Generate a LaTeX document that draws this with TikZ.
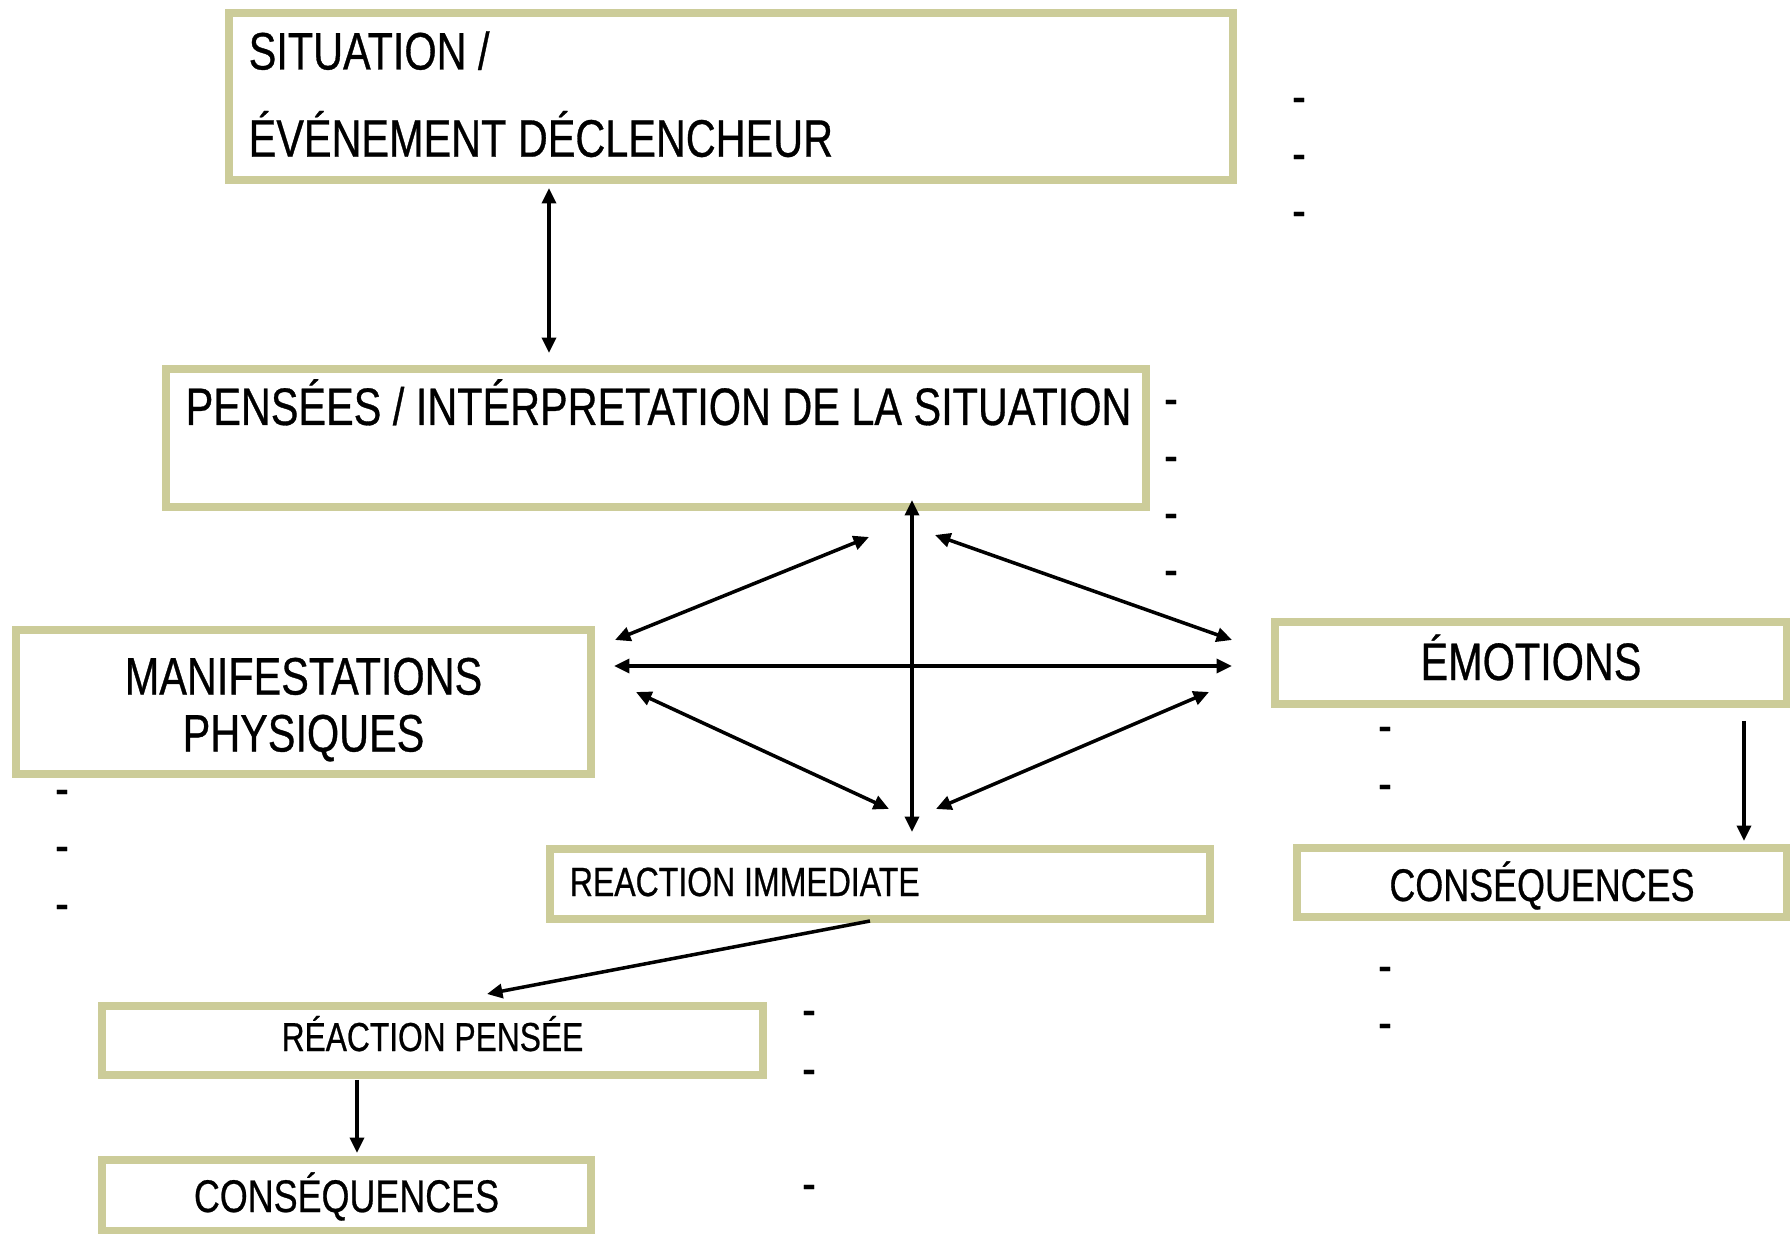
\documentclass[tikz,border=0pt]{standalone}
\usepackage{fontspec}
\setmainfont{Liberation Sans}[FakeStretch=0.785, FakeBold=0.6]
\usetikzlibrary{arrows.meta, positioning}
\definecolor{FrameOlive}{RGB}{204,204,153}

\tikzset{
  frame/.style={rectangle, draw=FrameOlive, line width=2.3pt, fill=white, inner sep=0pt},
  link/.style={line width=1pt, {Triangle[length=4.4pt,width=4pt]}-{Triangle[length=4.4pt,width=4pt]}},
  onelink/.style={line width=1pt, -{Triangle[length=4.4pt,width=4pt]}},
  hyphenmark/.style={inner sep=0pt, font=\fontsize{15}{18}\selectfont},
}

\begin{document}
\begin{tikzpicture}[x=0.01cm, y=-0.01cm]
  \path[use as bounding box] (0,0) rectangle (1790,1234);

  % Boxes
  \node[frame, minimum width=10.04cm, minimum height=1.67cm, text width=9.64cm, align=flush left,
        font=\fontsize{15}{24.8}\selectfont] (sit) at (731,96.5)
        {SITUATION /\\ÉVÉNEMENT DÉCLENCHEUR\rule[-0.05cm]{0pt}{0pt}};
  \node[frame, text width=9.4cm, inner xsep=0.2cm, text height=0.56cm, text depth=0.82cm, align=flush left,
        font=\fontsize{15}{18}\selectfont] (pen) at (656,438)
        {\mbox{PENSÉES / INTÉRPRETATION DE LA SITUATION}};
  \node[frame, minimum width=5.75cm, minimum height=1.44cm, align=center,
        font=\fontsize{15}{16.2}\selectfont] (man) at (303.5,702)
        {\rule{0pt}{0.52cm}MANIFESTATIONS\\PHYSIQUES};
  \node[frame, minimum width=5.12cm, text height=0.58cm, text depth=0.24cm,
        font=\fontsize{15}{18}\selectfont] (emo) at (1531,663) {ÉMOTIONS};
  \node[frame, text width=6.2cm, inner xsep=0.2cm, text height=0.47cm, text depth=0.23cm, align=flush left,
        font=\fontsize{11.6}{14}\selectfont] (rim) at (880,884) {REACTION IMMEDIATE};
  \node[frame, minimum width=4.90cm, text height=0.53cm, text depth=0.16cm,
        font=\fontsize{13}{16}\selectfont] (csr) at (1542,882.5) {CONSÉQUENCES};
  \node[frame, minimum width=6.61cm, text height=0.45cm, text depth=0.24cm,
        font=\fontsize{11.5}{14}\selectfont] (rpe) at (432.5,1040.5) {RÉACTION PENSÉE};
  \node[frame, minimum width=4.89cm, text height=0.52cm, text depth=0.19cm,
        font=\fontsize{13}{16}\selectfont] (csl) at (346.5,1195.5) {CONSÉQUENCES};

  % Empty bullets
  \foreach \x/\y [count=\i] in {1299/106, 1299/163, 1299/220,
                                1171/408, 1171/465, 1171/522, 1171/579,
                                62/798, 62/855, 62/913,
                                1385/735, 1385/793, 1385/975, 1385/1032,
                                809/1019, 809/1078, 809/1193}
    \node[hyphenmark] (bul\i) at (\x,\y) {-};

  % Arrow ends
  \coordinate (sitA) at (549,188);
  \coordinate (penA) at (549,353);
  \coordinate (hubN) at (912,500);
  \coordinate (hubS) at (912,832);
  \coordinate (hubW) at (614,666);
  \coordinate (hubE) at (1232,666);
  \coordinate (nwA) at (615,640);
  \coordinate (nwB) at (869,537);
  \coordinate (neA) at (935,535);
  \coordinate (neB) at (1232,640);
  \coordinate (swA) at (636,692);
  \coordinate (swB) at (889,809);
  \coordinate (seA) at (1209,692);
  \coordinate (seB) at (936,809);
  \coordinate (rimA) at (870,921);
  \coordinate (rpeA) at (487,994);
  \coordinate (rpeB) at (357,1080);
  \coordinate (cslA) at (357,1153);
  \coordinate (emoA) at (1744,721);
  \coordinate (csrA) at (1744,841);

  % Connections
  \draw[link] (sitA) -- (penA);
  \draw[link] (hubN) -- (hubS);
  \draw[link] (hubW) -- (hubE);
  \draw[link] (nwA) -- (nwB);
  \draw[link] (neA) -- (neB);
  \draw[link] (swA) -- (swB);
  \draw[link] (seA) -- (seB);
  \draw[onelink] (rimA) -- (rpeA);
  \draw[onelink] (rpeB) -- (cslA);
  \draw[onelink] (emoA) -- (csrA);
\end{tikzpicture}
\end{document}
